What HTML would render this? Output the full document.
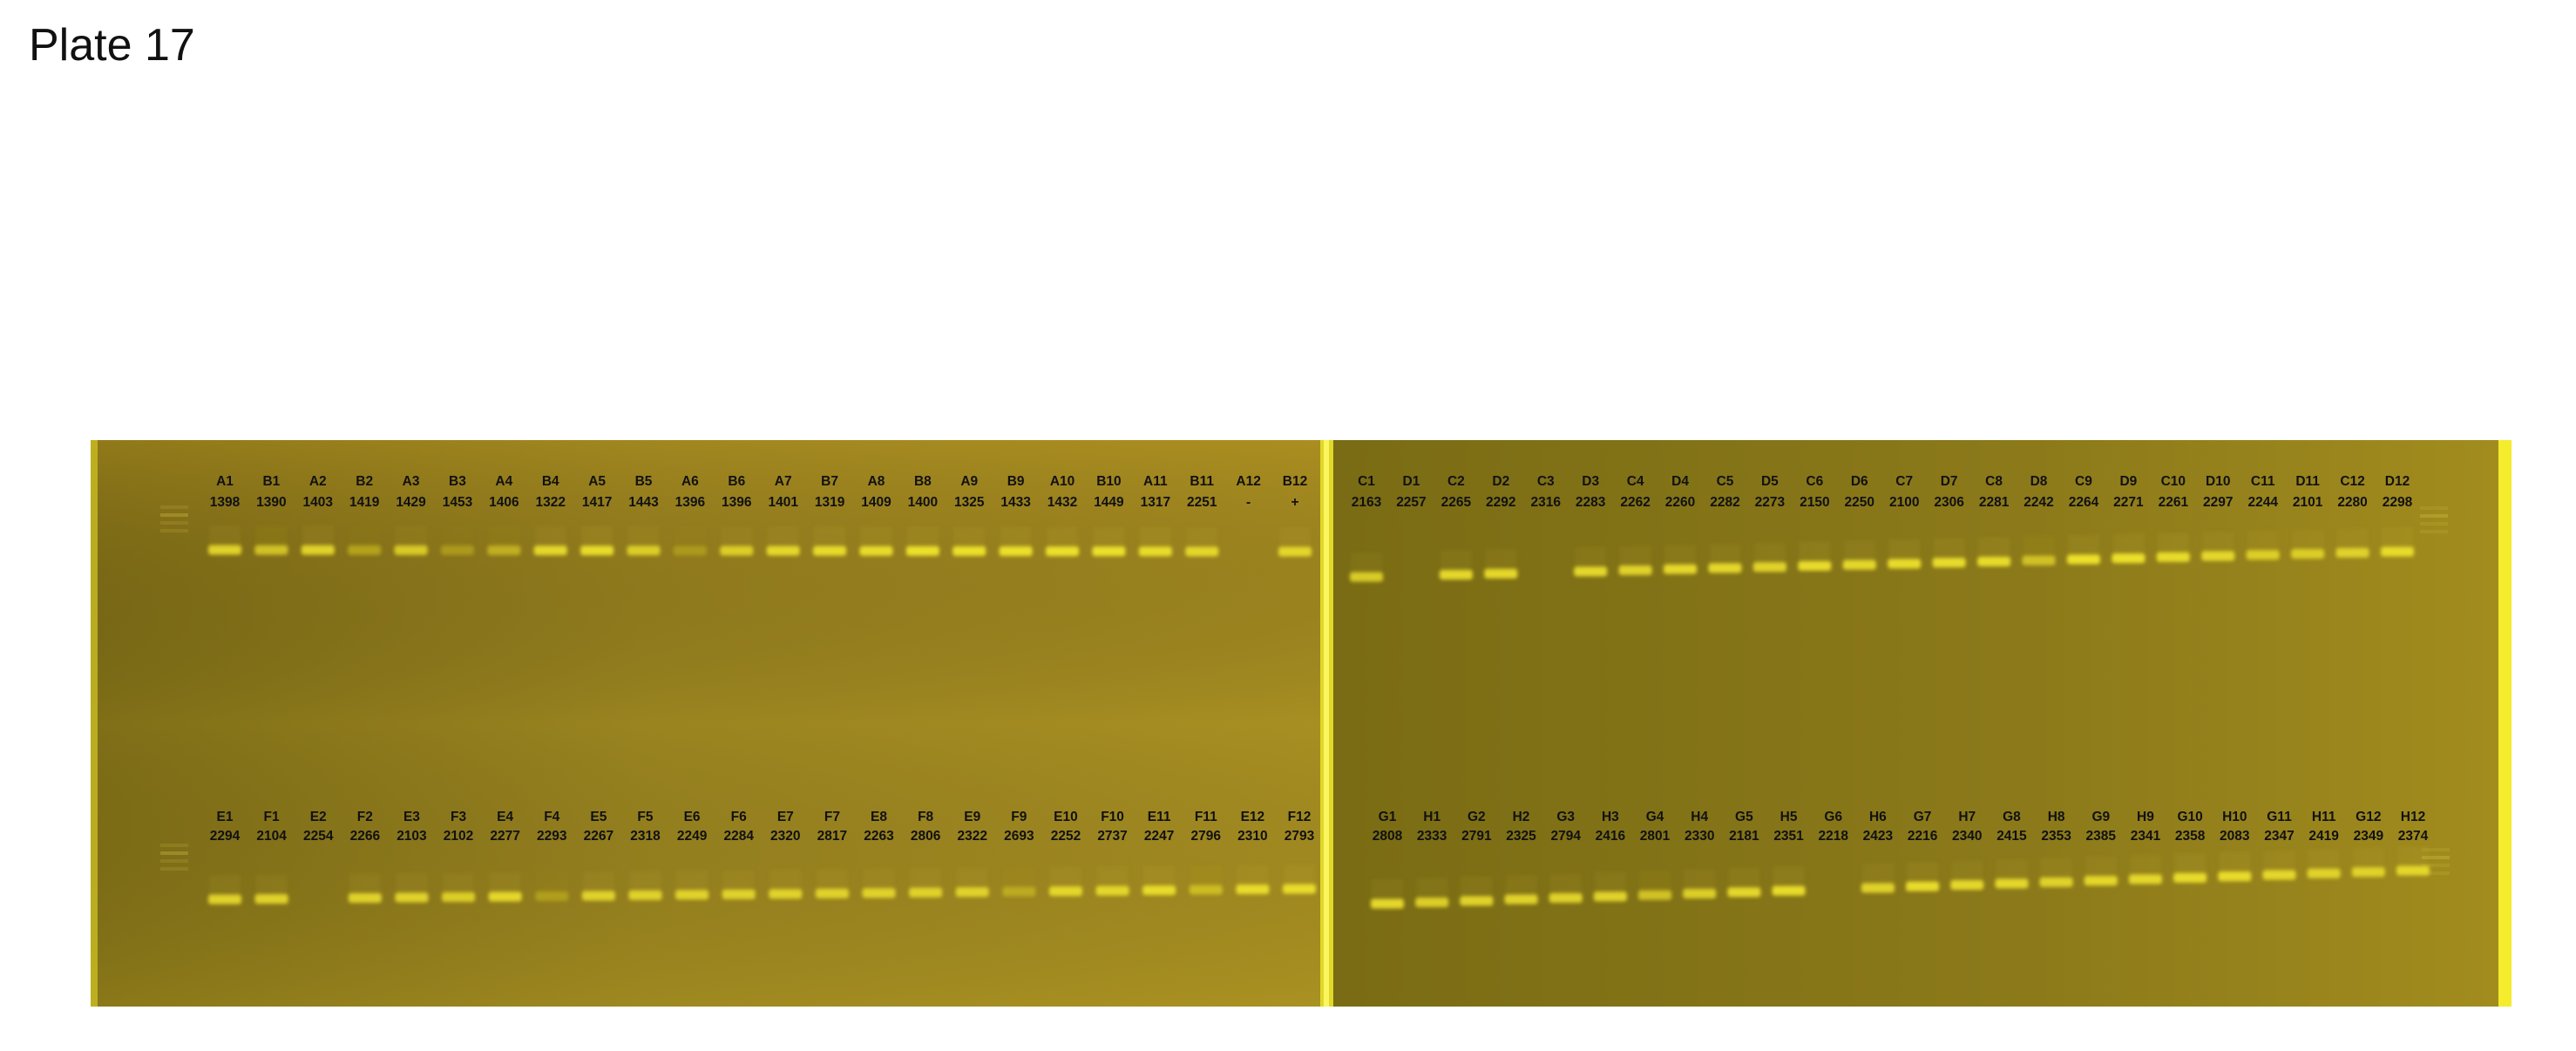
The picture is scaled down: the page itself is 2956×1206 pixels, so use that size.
<!DOCTYPE html>
<html><head><meta charset="utf-8">
<style>
html,body{margin:0;padding:0;background:#fff;}
body{width:2956px;height:1206px;position:relative;overflow:hidden;font-family:"Liberation Sans",sans-serif;}
#title{position:absolute;left:33px;top:22px;font-size:52px;color:#111;}
svg{position:absolute;left:0;top:0;}
</style></head>
<body>
<div id="title">Plate 17</div>
<svg id="gel" width="2956" height="1206">
<defs>
<linearGradient id="gL" x1="0" x2="1" y1="0" y2="0">
<stop offset="0" stop-color="#806f17"/><stop offset="0.45" stop-color="#9a8420"/><stop offset="1" stop-color="#a88f22"/>
</linearGradient>
<linearGradient id="gLv" x1="0" x2="0" y1="0" y2="1">
<stop offset="0" stop-color="#b08c1e" stop-opacity="0.35"/><stop offset="0.5" stop-color="#000" stop-opacity="0"/><stop offset="1" stop-color="#b09a20" stop-opacity="0.2"/>
</linearGradient>
<linearGradient id="gR" x1="0" x2="1" y1="0" y2="0">
<stop offset="0" stop-color="#7a6c14"/><stop offset="0.6" stop-color="#8c7a1a"/><stop offset="1" stop-color="#a28c1e"/>
</linearGradient>
<filter id="blur"><feGaussianBlur stdDeviation="2"/></filter>
</defs>
<rect x="104" y="505" width="1416" height="650" fill="url(#gL)"/>
<rect x="104" y="505" width="1416" height="650" fill="url(#gLv)"/>
<rect x="1530" y="505" width="1340" height="650" fill="url(#gR)"/>
<rect x="104" y="505" width="8" height="650" fill="#c9bd22" opacity="0.8"/>
<rect x="1515" y="505" width="15" height="650" fill="#e0d82a"/>
<rect x="1519" y="505" width="6" height="650" fill="#fbf560"/>
<rect x="2867" y="505" width="15" height="650" fill="#f4ec2c"/>
<g id="ladders"></g>
<g id="bands" filter="url(#blur)"></g>
<g id="labels" font-family="Liberation Sans, sans-serif" font-weight="bold" font-size="15.5" fill="#111" text-anchor="middle"></g>
</svg>
<script>
// ---- data ----
const wellsTL = ["A1","B1","A2","B2","A3","B3","A4","B4","A5","B5","A6","B6","A7","B7","A8","B8","A9","B9","A10","B10","A11","B11","A12","B12"];
const idsTL = ["1398","1390","1403","1419","1429","1453","1406","1322","1417","1443","1396","1396","1401","1319","1409","1400","1325","1433","1432","1449","1317","2251","-","+"];
const bandTL = [0.8,0.6,0.8,0.25,0.7,0.15,0.4,0.85,0.9,0.75,0.15,0.75,0.85,0.9,0.9,0.95,0.95,0.95,0.95,0.95,0.9,0.85,0,0.85];
const wellsTR = ["C1","D1","C2","D2","C3","D3","C4","D4","C5","D5","C6","D6","C7","D7","C8","D8","C9","D9","C10","D10","C11","D11","C12","D12"];
const idsTR = ["2163","2257","2265","2292","2316","2283","2262","2260","2282","2273","2150","2250","2100","2306","2281","2242","2264","2271","2261","2297","2244","2101","2280","2298"];
const bandTR = [0.7,0,0.85,0.85,0,0.85,0.8,0.85,0.85,0.8,0.9,0.85,0.9,0.9,0.9,0.6,0.95,0.95,0.9,0.85,0.75,0.75,0.8,0.9];
const wellsBL = ["E1","F1","E2","F2","E3","F3","E4","F4","E5","F5","E6","F6","E7","F7","E8","F8","E9","F9","E10","F10","E11","F11","E12","F12"];
const idsBL = ["2294","2104","2254","2266","2103","2102","2277","2293","2267","2318","2249","2284","2320","2817","2263","2806","2322","2693","2252","2737","2247","2796","2310","2793"];
const bandBL = [0.8,0.8,0,0.8,0.8,0.75,0.85,0.2,0.8,0.8,0.8,0.8,0.8,0.8,0.8,0.8,0.8,0.35,0.85,0.85,0.9,0.55,0.9,0.9];
const wellsBR = ["G1","H1","G2","H2","G3","H3","G4","H4","G5","H5","G6","H6","G7","H7","G8","H8","G9","H9","G10","H10","G11","H11","G12","H12"];
const idsBR = ["2808","2333","2791","2325","2794","2416","2801","2330","2181","2351","2218","2423","2216","2340","2415","2353","2385","2341","2358","2083","2347","2419","2349","2374"];
const bandBR = [0.85,0.75,0.8,0.8,0.8,0.8,0.6,0.75,0.85,0.9,0,0.8,0.9,0.85,0.85,0.8,0.85,0.85,0.9,0.9,0.85,0.8,0.8,0.85];

// ---- layout (axis functions) ----
const rows = [
 {w:wellsTL,ids:idsTL,b:bandTL,x0:258,x1:1486,ly:557,ny:581,by0:631,by1:633},
 {w:wellsTR,ids:idsTR,b:bandTR,x0:1568,x1:2751,ly:557,ny:581,by0:662,by1:633},
 {w:wellsBL,ids:idsBL,b:bandBL,x0:258,x1:1491,ly:942,ny:964,by0:1032,by1:1020},
 {w:wellsBR,ids:idsBR,b:bandBR,x0:1592,x1:2769,ly:942,ny:964,by0:1037,by1:999}
];
const NS="http://www.w3.org/2000/svg";
const gB=document.getElementById('bands'), gT=document.getElementById('labels'), gLd=document.getElementById('ladders');
function xScale(r,i){return r.x0+(r.x1-r.x0)*i/(r.w.length-1);}
function yScale(r,i){return r.by0+(r.by1-r.by0)*i/(r.w.length-1);}
function mix(a,b,t){return Math.round(a+(b-a)*t);}
rows.forEach(r=>{
  r.w.forEach((w,i)=>{
    const x=xScale(r,i);
    const t1=document.createElementNS(NS,'text');
    t1.setAttribute('x',x);t1.setAttribute('y',r.ly);t1.textContent=w;
    
    
    gT.appendChild(t1);
    const t2=document.createElementNS(NS,'text');
    t2.setAttribute('x',x);t2.setAttribute('y',r.ny);t2.textContent=r.ids[i];
    
    
    gT.appendChild(t2);
    const v=r.b[i];
    if(v>0){
      const y=yScale(r,i);
      const smear=document.createElementNS(NS,'rect');
      smear.setAttribute('x',x-18);smear.setAttribute('y',y-28);smear.setAttribute('width',36);smear.setAttribute('height',24);
      smear.setAttribute('fill','#c8b430');smear.setAttribute('opacity',(v*0.12).toFixed(2));
      
      
      gB.appendChild(smear);
      const rc=document.createElementNS(NS,'rect');
      rc.setAttribute('x',x-19);rc.setAttribute('y',y-5.5);rc.setAttribute('width',38);rc.setAttribute('height',11);rc.setAttribute('rx',3);
      rc.setAttribute('fill','rgb('+mix(160,240,v)+','+mix(140,228,v)+','+mix(25,45,v)+')');
      
      
      gB.appendChild(rc);
    }
  });
});
// ladders
[[200,592],[200,980],[2793,593],[2795,985]].forEach((p,k)=>{
  for(let j=0;j<4;j++){
    const l=document.createElementNS(NS,'rect');
    l.setAttribute('x',p[0]-16);l.setAttribute('y',p[1]-12+j*9);l.setAttribute('width',32);l.setAttribute('height',4);
    l.setAttribute('fill','#d0bf48');l.setAttribute('opacity',j==1?0.35:0.18);
    
    
    gLd.appendChild(l);
  }
});
</script>
</body></html>
